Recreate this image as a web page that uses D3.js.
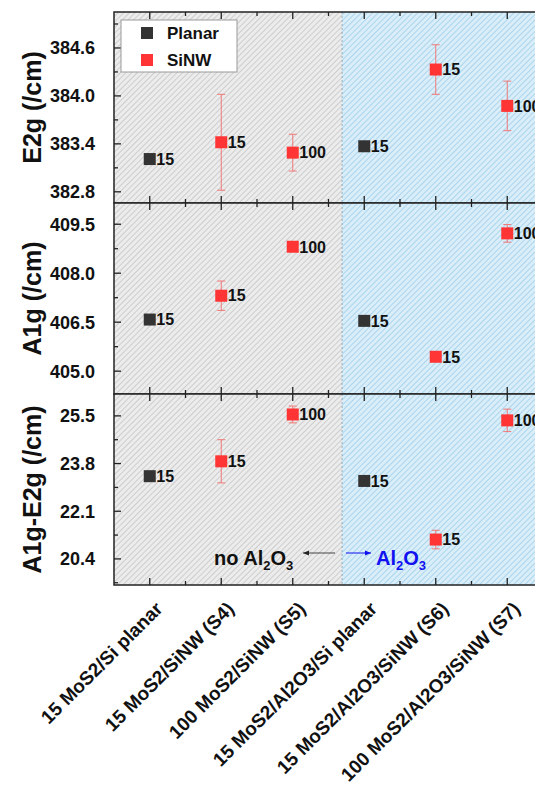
<!DOCTYPE html>
<html>
<head>
<meta charset="utf-8">
<script src="https://cdn.jsdelivr.net/npm/d3@7"></script>
<style>
  body { margin: 0; background: #fff; }
  text { font-family: "Liberation Sans", Arial, sans-serif; font-weight: bold; }
</style>
</head>
<body>
<script>
// Categories along x (index 1..6)
var categories = ["15 MoS2/Si planar", "15 MoS2/SiNW (S4)", "100 MoS2/SiNW  (S5)",
                  "15 MoS2/Al2O3/Si planar", "15 MoS2/Al2O3/SiNW (S6)", "100 MoS2/Al2O3/SiNW (S7)"];
var planarIdx = [1, 4];
var sinwIdx = [2, 3, 5, 6];
var planarLabels = ["15", "15"];
var sinwLabels = ["15", "100", "15", "100"];

// E2g panel
var e2gPlanar = [383.21, 383.37];
var e2gSinw = [383.42, 383.29, 384.33, 383.875];
var e2gSinwErr = [0.6, 0.23, 0.31, 0.31];
var e2gTicks = [382.8, 383.4, 384.0, 384.6];

// A1g panel
var a1gPlanar = [406.58, 406.54];
var a1gSinw = [407.31, 408.81, 405.44, 409.22];
var a1gSinwErr = [0.45, 0.08, 0.08, 0.27];
var a1gTicks = [405.0, 406.5, 408.0, 409.5];

// A1g-E2g panel
var diffPlanar = [23.35, 23.18];
var diffSinw = [23.88, 25.55, 21.09, 25.34];
var diffSinwErr = [0.77, 0.3, 0.33, 0.4];
var diffTicks = [20.4, 22.1, 23.8, 25.5];

var width = 535, height = 787;
var left = 114, right = 543;

var svg = d3.select("body").append("svg")
    .attr("width", width)
    .attr("height", height);

// Hatch patterns
var defs = svg.append("defs");
function hatch(id, bg, line) {
  var p = defs.append("pattern")
      .attr("id", id)
      .attr("patternUnits", "userSpaceOnUse")
      .attr("width", 4).attr("height", 4)
      .attr("patternTransform", "rotate(45)");
  p.append("rect").attr("width", 4).attr("height", 4).attr("fill", bg);
  p.append("line").attr("x1", 0.5).attr("y1", 0).attr("x2", 0.5).attr("y2", 4)
      .attr("stroke", line).attr("stroke-width", 1);
}
hatch("grayHatch", "#ececec", "#cdcdcd");
hatch("blueHatch", "#d9eef9", "#acd4ec");

var x = d3.scaleLinear().domain([0.5, 6.5]).range([left, right]);
var splitX = 3.69;

var panels = [
  {top: 12, bottom: 203, domain: [382.66, 385.05], ticks: e2gTicks, minor: 0.3, fmt: ".1f",
   label: "E2g (/cm)", planar: e2gPlanar, sinw: e2gSinw, err: e2gSinwErr},
  {top: 203, bottom: 394, domain: [404.3, 410.15], ticks: a1gTicks, minor: 0.75, fmt: ".1f",
   label: "A1g (/cm)", planar: a1gPlanar, sinw: a1gSinw, err: a1gSinwErr},
  {top: 394, bottom: 585, domain: [19.47, 26.28], ticks: diffTicks, minor: 0.85, fmt: ".1f",
   label: "A1g-E2g (/cm)", planar: diffPlanar, sinw: diffSinw, err: diffSinwErr}
];

panels.forEach(function(p) {
  var y = d3.scaleLinear().domain(p.domain).range([p.bottom, p.top]);
  var g = svg.append("g");

  // backgrounds
  g.append("rect").attr("x", left).attr("y", p.top)
      .attr("width", x(splitX) - left).attr("height", p.bottom - p.top)
      .attr("fill", "url(#grayHatch)");
  g.append("rect").attr("x", x(splitX)).attr("y", p.top)
      .attr("width", right - x(splitX)).attr("height", p.bottom - p.top)
      .attr("fill", "url(#blueHatch)");
  g.append("line").attr("x1", x(splitX)).attr("x2", x(splitX))
      .attr("y1", p.top).attr("y2", p.bottom)
      .attr("stroke", "#7f9fb5").attr("stroke-width", 0.8)
      .attr("stroke-dasharray", "2,2");

  // minor ticks
  var minorY = d3.range(p.ticks[0] - p.minor * 2, p.domain[1], p.minor)
      .filter(function(v) { return v > p.domain[0] && v < p.domain[1]; });
  var majorX = d3.range(1, 7);
  var minorX = d3.range(1.5, 6.5, 1);

  // x ticks top and bottom
  [[p.top, 1], [p.bottom, -1]].forEach(function(s) {
    g.selectAll(null).data(majorX).enter().append("line")
        .attr("x1", function(d) { return x(d); }).attr("x2", function(d) { return x(d); })
        .attr("y1", s[0]).attr("y2", s[0] + s[1] * 7)
        .attr("stroke", "#222").attr("stroke-width", 1.3);
    g.selectAll(null).data(minorX).enter().append("line")
        .attr("x1", function(d) { return x(d); }).attr("x2", function(d) { return x(d); })
        .attr("y1", s[0]).attr("y2", s[0] + s[1] * 4)
        .attr("stroke", "#222").attr("stroke-width", 1.3);
  });

  // y ticks left and right
  [[left, 1], [right, -1]].forEach(function(s) {
    g.selectAll(null).data(minorY).enter().append("line")
        .attr("y1", function(d) { return y(d); }).attr("y2", function(d) { return y(d); })
        .attr("x1", s[0]).attr("x2", function(d) {
          var isMajor = p.ticks.some(function(t) { return Math.abs(t - d) < 1e-6; });
          return s[0] + s[1] * (isMajor ? 7 : 4);
        })
        .attr("stroke", "#222").attr("stroke-width", 1.3);
  });

  // tick labels
  g.selectAll(null).data(p.ticks).enter().append("text")
      .attr("x", 95).attr("y", function(d) { return y(d); })
      .attr("dy", "0.36em")
      .attr("text-anchor", "end")
      .attr("font-size", 18)
      .attr("fill", "#111")
      .text(function(d) { return d3.format(p.fmt)(d); });

  // y label
  g.append("text")
      .attr("transform", "translate(41," + (p.top + p.bottom) / 2 + ") rotate(-90)")
      .attr("text-anchor", "middle")
      .attr("font-size", 25)
      .attr("fill", "#111")
      .text(p.label);

  // frame
  g.append("rect").attr("x", left).attr("y", p.top)
      .attr("width", right - left).attr("height", p.bottom - p.top)
      .attr("fill", "none").attr("stroke", "#222").attr("stroke-width", 1.5);

  // error bars for SiNW
  var sinwData = sinwIdx.map(function(c, i) {
    return {c: c, v: p.sinw[i], e: p.err[i], lab: sinwLabels[i]};
  });
  var planarData = planarIdx.map(function(c, i) {
    return {c: c, v: p.planar[i], lab: planarLabels[i]};
  });

  var eb = g.selectAll(null).data(sinwData).enter().append("g")
      .attr("stroke", "#f07878").attr("stroke-width", 1);
  eb.append("line")
      .attr("x1", function(d) { return x(d.c); }).attr("x2", function(d) { return x(d.c); })
      .attr("y1", function(d) { return y(d.v - d.e); }).attr("y2", function(d) { return y(d.v + d.e); });
  eb.append("line")
      .attr("x1", function(d) { return x(d.c) - 4; }).attr("x2", function(d) { return x(d.c) + 4; })
      .attr("y1", function(d) { return y(d.v - d.e); }).attr("y2", function(d) { return y(d.v - d.e); });
  eb.append("line")
      .attr("x1", function(d) { return x(d.c) - 4; }).attr("x2", function(d) { return x(d.c) + 4; })
      .attr("y1", function(d) { return y(d.v + d.e); }).attr("y2", function(d) { return y(d.v + d.e); });

  // markers
  var sz = 12;
  g.selectAll(null).data(planarData).enter().append("rect")
      .attr("x", function(d) { return x(d.c) - sz / 2; })
      .attr("y", function(d) { return y(d.v) - sz / 2; })
      .attr("width", sz).attr("height", sz)
      .attr("fill", "#333");
  g.selectAll(null).data(sinwData).enter().append("rect")
      .attr("x", function(d) { return x(d.c) - sz / 2; })
      .attr("y", function(d) { return y(d.v) - sz / 2; })
      .attr("width", sz).attr("height", sz)
      .attr("fill", "#ff3434");

  // point labels
  g.selectAll(null).data(planarData.concat(sinwData)).enter().append("text")
      .attr("x", function(d) { return x(d.c) + 6.5; })
      .attr("y", function(d) { return y(d.v); })
      .attr("dy", "0.36em")
      .attr("font-size", 16)
      .attr("fill", "#111")
      .text(function(d) { return d.lab; });
});

// Legend
var lg = svg.append("g");
lg.append("rect").attr("x", 121).attr("y", 20).attr("width", 116).attr("height", 52)
    .attr("fill", "#fff").attr("stroke", "#999").attr("stroke-width", 1);
var legendItems = [{name: "Planar", color: "#333"}, {name: "SiNW", color: "#ff3434"}];
legendItems.forEach(function(d, i) {
  lg.append("rect").attr("x", 141).attr("y", 27 + i * 27).attr("width", 12).attr("height", 12)
      .attr("fill", d.color);
  lg.append("text").attr("x", 167).attr("y", 33 + i * 27).attr("dy", "0.36em")
      .attr("font-size", 17).attr("fill", "#111").text(d.name);
});

// Al2O3 annotation
var ann = svg.append("g");
var t1 = ann.append("text").attr("x", 214).attr("y", 565).attr("font-size", 20).attr("fill", "#111");
t1.append("tspan").text("no Al");
t1.append("tspan").attr("font-size", 13).attr("dy", 5).text("2");
t1.append("tspan").attr("dy", -5).text("O");
t1.append("tspan").attr("font-size", 13).attr("dy", 5).text("3");

var t2 = ann.append("text").attr("x", 376).attr("y", 565).attr("font-size", 20).attr("fill", "#1010f0");
t2.append("tspan").text("Al");
t2.append("tspan").attr("font-size", 13).attr("dy", 5).text("2");
t2.append("tspan").attr("dy", -5).text("O");
t2.append("tspan").attr("font-size", 13).attr("dy", 5).text("3");

defs.append("marker").attr("id", "arrBlack").attr("viewBox", "0 0 10 10")
    .attr("refX", 10).attr("refY", 5).attr("markerWidth", 6).attr("markerHeight", 6)
    .attr("orient", "auto").append("path").attr("d", "M0,1L10,5L0,9Z").attr("fill", "#222");
defs.append("marker").attr("id", "arrBlue").attr("viewBox", "0 0 10 10")
    .attr("refX", 10).attr("refY", 5).attr("markerWidth", 6).attr("markerHeight", 6)
    .attr("orient", "auto").append("path").attr("d", "M0,1L10,5L0,9Z").attr("fill", "#1010f0");
ann.append("line").attr("x1", 335).attr("y1", 553).attr("x2", 303).attr("y2", 553)
    .attr("stroke", "#444").attr("stroke-width", 1).attr("marker-end", "url(#arrBlack)");
ann.append("line").attr("x1", 346).attr("y1", 553).attr("x2", 371).attr("y2", 553)
    .attr("stroke", "#1010f0").attr("stroke-width", 1).attr("marker-end", "url(#arrBlue)");

// Rotated category labels
svg.append("g").selectAll("text").data(categories).enter().append("text")
    .attr("transform", function(d, i) {
      return "translate(" + (x(i + 1) + 14) + ",610) rotate(-45)";
    })
    .attr("text-anchor", "end")
    .attr("font-size", 19)
    .attr("fill", "#111")
    .text(function(d) { return d; });
</script>
</body>
</html>
